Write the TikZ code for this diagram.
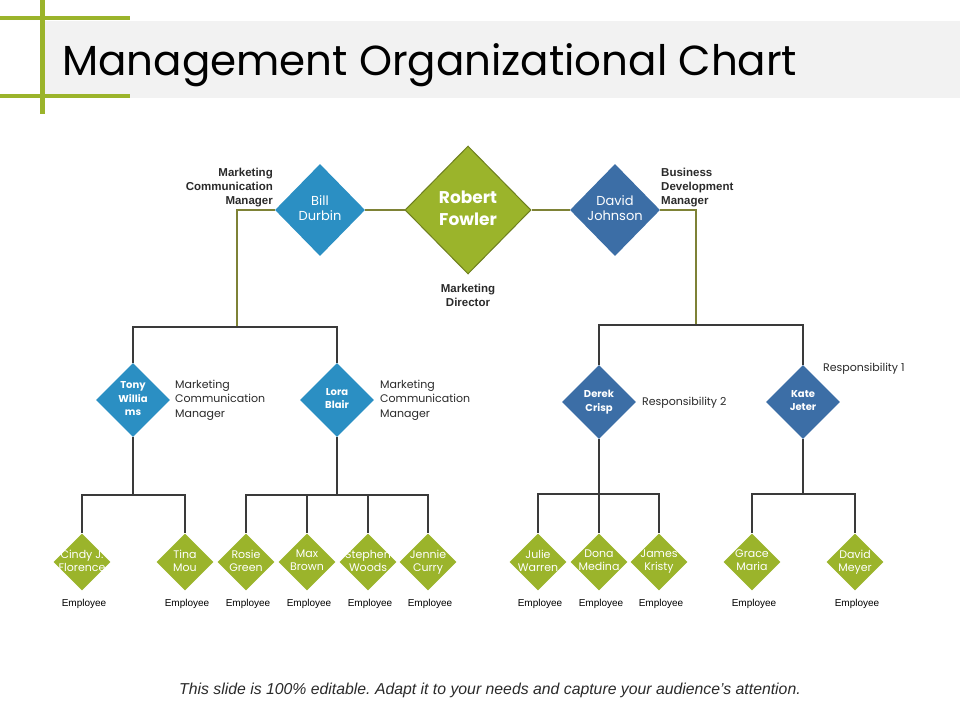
\documentclass[tikz,border=0pt]{standalone}
\usepackage{fontspec}
\setmainfont{Liberation Sans}
\newfontfamily\gothic{Poppins}
\usepackage{tikz}
\usetikzlibrary{shapes.geometric}
\frenchspacing
\definecolor{chartgreen}{HTML}{9BB42B}
\definecolor{darkolive}{HTML}{6E7F1E}
\definecolor{mgrblue}{HTML}{2B8FC3}
\definecolor{teamblue}{HTML}{3C6EA6}
\definecolor{textgray}{HTML}{2A2A2A}
\definecolor{linegray}{HTML}{3A3A3A}
\definecolor{oliveline}{HTML}{7E8236}
\definecolor{bandgray}{HTML}{F2F2F2}
\tikzstyle{director} = [diamond, minimum width=126pt, minimum height=128pt, inner sep=0pt, fill=chartgreen, draw=darkolive, line width=1pt, text=white, font=\gothic\bfseries\fontsize{17}{22}\selectfont, align=center, execute at begin node=\vphantom{il}, execute at end node=\vphantom{y}]
\tikzstyle{manager} = [diamond, minimum width=90pt, minimum height=92pt, inner sep=0pt, fill=mgrblue, text=white, font=\gothic\fontsize{13}{15}\selectfont, align=center, execute at begin node=\vphantom{il}, execute at end node=\vphantom{y}]
\tikzstyle{lead} = [diamond, minimum width=74pt, minimum height=74pt, inner sep=0pt, fill=mgrblue, text=white, font=\gothic\bfseries\fontsize{10}{13.5}\selectfont, align=center, execute at begin node=\vphantom{il}, execute at end node=\vphantom{y}]
\tikzstyle{employee} = [diamond, minimum width=57pt, minimum height=57pt, inner sep=-10pt, fill=chartgreen, text=white, font=\gothic\fontsize{11}{13}\selectfont, align=center, execute at begin node=\vphantom{il}, execute at end node=\vphantom{y}]
\tikzstyle{role} = [text=textgray, font=\bfseries\fontsize{11.5}{14}\selectfont, inner sep=0pt]
\tikzstyle{duty} = [text=textgray, font=\gothic\fontsize{11}{14.5}\selectfont, align=left, anchor=west, inner sep=0pt]
\tikzstyle{staff} = [text=black, font=\fontsize{10}{12}\selectfont, inner sep=0pt, xshift=2pt]
\tikzstyle{link} = [line width=1.2pt, draw=linegray]
\tikzstyle{toplink} = [line width=1.2pt, draw=oliveline]

\begin{document}
\begin{tikzpicture}[x=1pt, y=-1pt, node distance=42pt]
        \useasboundingbox (0,0) rectangle (960,720);
        % header
        \fill [bandgray] (43,21) rectangle (960,98);
        \fill [chartgreen] (0,16) rectangle (130,20);
        \fill [chartgreen] (0,94) rectangle (130,98);
        \fill [chartgreen] (40,0) rectangle (44.5,114);
        \node (title) [anchor=base west, inner sep=0pt, font=\gothic\fontsize{42}{48}\selectfont] at (62,75) {Management Organizational Chart};

        % top level
        \node (robert) [director] at (468,210) {Robert\\Fowler};
        \node (bill) [manager] at (320,210) {Bill\\Durbin};
        \node (david) [manager, fill=teamblue] at (615,210) {David\\Johnson};
        \node (billrole) [role, anchor=east, align=right] at (273,188) {Marketing\\Communication\\Manager};
        \node (davidrole) [role, anchor=west, align=left] at (661,188) {Business\\Development\\Manager};
        \node (robertrole) [role, align=center] at (468,295) {Marketing\\Director};

        % middle level
        \node (tony) [lead] at (133,400) {Tony\\Willia\\ms};
        \node (lora) [lead] at (337,400) {Lora\\Blair};
        \node (derek) [lead, fill=teamblue] at (599,402) {Derek\\Crisp};
        \node (kate) [lead, fill=teamblue] at (803,402) {Kate\\Jeter};
        \node (tonyduty) [duty] at (175,400) {Marketing\\Communication\\Manager};
        \node (loraduty) [duty] at (380,400) {Marketing\\Communication\\Manager};
        \node (derekduty) [duty] at (642,403) {Responsibility 2};
        \node (kateduty) [duty] at (823,369) {Responsibility 1};

        % employees
        \node (cindy) [employee] at (82,562) {Cindy J.\\Florence};
        \node (tina) [employee] at (185,562) {Tina\\Mou};
        \node (rosie) [employee] at (246,562) {Rosie\\Green};
        \node (max) [employee] at (307,562) {Max\\Brown};
        \node (stephen) [employee] at (368,562) {Stephen\\Woods};
        \node (jennie) [employee] at (428,562) {Jennie\\Curry};
        \node (julie) [employee] at (538,562) {Julie\\Warren};
        \node (dona) [employee] at (599,562) {Dona\\Medina};
        \node (james) [employee] at (659,562) {James\\Kristy};
        \node (grace) [employee] at (752,562) {Grace\\Maria};
        \node (meyer) [employee] at (855,562) {David\\Meyer};
        \node (cindyrole) [staff, below of=cindy] {Employee};
        \node (tinarole) [staff, below of=tina] {Employee};
        \node (rosierole) [staff, below of=rosie] {Employee};
        \node (maxrole) [staff, below of=max] {Employee};
        \node (stephenrole) [staff, below of=stephen] {Employee};
        \node (jennierole) [staff, below of=jennie] {Employee};
        \node (julierole) [staff, below of=julie] {Employee};
        \node (donarole) [staff, below of=dona] {Employee};
        \node (jamesrole) [staff, below of=james] {Employee};
        \node (gracerole) [staff, below of=grace] {Employee};
        \node (meyerrole) [staff, below of=meyer] {Employee};

        % connectors
        \coordinate (billbus) at (237,327);
        \coordinate (davidbus) at (696,325);
        \coordinate (tonybus) at (133,495);
        \coordinate (lorabus) at (337,495);
        \coordinate (derekbus) at (599,494);
        \coordinate (katebus) at (803,494);
        \draw [toplink] (bill.east) -- (robert.west);
        \draw [toplink] (robert.east) -- (david.west);
        \draw [toplink] (bill.west) -| (billbus);
        \draw [toplink] (david.east) -| (davidbus);
        \draw [link] (billbus) -| (tony.north);
        \draw [link] (billbus) -| (lora.north);
        \draw [link] (davidbus) -| (derek.north);
        \draw [link] (davidbus) -| (kate.north);
        \draw [link] (tony.south) -- (tonybus);
        \draw [link] (tonybus) -| (cindy.north);
        \draw [link] (tonybus) -| (tina.north);
        \draw [link] (lora.south) -- (lorabus);
        \draw [link] (lorabus) -| (rosie.north);
        \draw [link] (lorabus) -| (max.north);
        \draw [link] (lorabus) -| (stephen.north);
        \draw [link] (lorabus) -| (jennie.north);
        \draw [link] (derek.south) -- (derekbus);
        \draw [link] (derekbus) -| (julie.north);
        \draw [link] (derekbus) -| (dona.north);
        \draw [link] (derekbus) -| (james.north);
        \draw [link] (kate.south) -- (katebus);
        \draw [link] (katebus) -| (grace.north);
        \draw [link] (katebus) -| (meyer.north);

        \node (note) [text=textgray, font=\itshape\fontsize{15.8}{18}\selectfont] at (490,690) {This slide is 100\% editable. Adapt it to your needs and capture your audience's attention.};
    \end{tikzpicture}
\end{document}
